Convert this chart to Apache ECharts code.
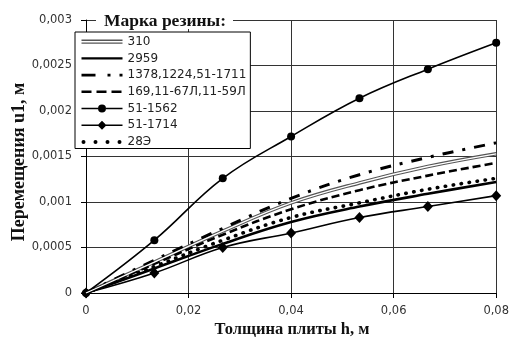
<!DOCTYPE html>
<html>
<head>
<meta charset="utf-8">
<script src="https://cdn.jsdelivr.net/npm/echarts@6/dist/echarts.min.js"></script>
<style>
html,body{margin:0;padding:0;background:#fff;}
#chart{width:512px;height:338px;}
</style>
</head>
<body>
<div id="chart"></div>
<script>
// ---- data ----
const hValues = [0, 0.01333, 0.02667, 0.04, 0.05333, 0.06667, 0.08];
const seriesNames = ['310', '2959', '1378,1224,51-1711', '169,11-67Л,11-59Л', '51-1562', '51-1714', '28Э'];
const u310    = [0, 0.00034, 0.00068, 0.00099, 0.00121, 0.00139, 0.00153];
const u2959   = [0, 0.00027, 0.00054, 0.00078, 0.00095, 0.00109, 0.00122];
const u1378   = [0, 0.00036, 0.00071, 0.00104, 0.00130, 0.00149, 0.00165];
const u169    = [0, 0.00032, 0.00064, 0.00092, 0.00113, 0.00129, 0.00143];
const u511562 = [0, 0.00058, 0.00126, 0.00172, 0.00214, 0.00246, 0.00275];
const u511714 = [0, 0.00022, 0.00050, 0.00066, 0.00083, 0.00095, 0.00107];
const u28E    = [0, 0.00029, 0.00058, 0.00083, 0.00099, 0.00114, 0.00126];
const xTickValues = [0, 0.02, 0.04, 0.06, 0.08];
const xTickLabels = ['0', '0,02', '0,04', '0,06', '0,08'];
const yTickValues = [0, 0.0005, 0.001, 0.0015, 0.002, 0.0025, 0.003];
const yTickLabels = ['0', '0,0005', '0,001', '0,0015', '0,002', '0,0025', '0,003'];
const xTitle = 'Толщина плиты h, м';
const yTitle = 'Перемещения u1, м';
const legendTitle = 'Марка резины:';

function pairs(ys) { return hValues.map((h, i) => [h, ys[i]]); }

const chart = echarts.init(document.getElementById('chart'), null, {renderer: 'canvas'});
const tickFont = 'DejaVu Sans';
const SM = 0.4;

const icons = {
  '310': 'path://M0,0M41,12M0,3.9H41V5.3H0Z M0,6.7H41V8.1H0Z',
  '2959': 'path://M0,0M41,12M0,4.8H41V7.2H0Z',
  '1378,1224,51-1711': 'path://M0,0M41,12M0,4.6H14V7.4H0Z M26,4.6H29V7.4H26Z M38,4.6H41V7.4H38Z',
  '169,11-67Л,11-59Л': 'path://M0,0M41,12M0,4.7H10V7.3H0Z M15,4.7H25V7.3H15Z M30,4.7H40V7.3H30Z',
  '51-1562': 'path://M0,0M41,12M0,5.3H16.5V6.7H0Z M24.5,5.3H41V6.7H24.5Z M16.5,6A4,4 0 1,1 24.5,6A4,4 0 1,1 16.5,6Z',
  '51-1714': 'path://M0,0M41,12M0,5.3H16.5V6.7H0Z M24.5,5.3H41V6.7H24.5Z M20.5,1.5L25,6L20.5,10.5L16,6Z',
  '28Э': 'path://M0,0M41,12M0,6A2,2 0 1,1 4,6A2,2 0 1,1 0,6Z M12,6A2,2 0 1,1 16,6A2,2 0 1,1 12,6Z M24,6A2,2 0 1,1 28,6A2,2 0 1,1 24,6Z M36,6A2,2 0 1,1 40,6A2,2 0 1,1 36,6Z'
};
const iconColors = {'310': '#555'};

const option = {
  animation: false,
  grid: {left: 86, right: 12, top: 20, bottom: 45, containLabel: false},
  xAxis: {
    type: 'value',
    min: xTickValues[0], max: xTickValues[xTickValues.length - 1],
    interval: xTickValues[1] - xTickValues[0],
    axisLine: {show: true, onZero: false, lineStyle: {color: '#000', width: 1}},
    axisTick: {show: true, inside: false, length: 5, lineStyle: {color: '#000'}},
    axisLabel: {
      margin: 12, color: '#333', fontFamily: tickFont, fontSize: 11.5,
      formatter: (v, i) => xTickLabels[i]
    },
    splitLine: {show: true, lineStyle: {color: '#333', width: 1}}
  },
  yAxis: {
    type: 'value',
    min: yTickValues[0], max: yTickValues[yTickValues.length - 1],
    interval: yTickValues[1] - yTickValues[0],
    axisLine: {show: true, lineStyle: {color: '#000', width: 1}},
    axisTick: {show: true, inside: false, length: 5, lineStyle: {color: '#000'}},
    axisLabel: {
      margin: 14, color: '#333', fontFamily: tickFont, fontSize: 11.5,
      formatter: (v, i) => yTickLabels[i]
    },
    splitLine: {show: true, lineStyle: {color: '#333', width: 1}}
  },
  legend: {
    left: 75, top: 32,
    orient: 'vertical',
    selectedMode: false,
    itemWidth: 41, itemHeight: 12, itemGap: 4.7,
    padding: [3.7, 4, 0.6, 6.5],
    backgroundColor: '#fff', borderColor: '#000', borderWidth: 1,
    textStyle: {fontFamily: tickFont, fontSize: 12, color: '#222', lineHeight: 12},
    itemStyle: {borderWidth: 0},
    data: seriesNames.map(n => ({
      name: n, icon: icons[n],
      itemStyle: {color: iconColors[n] || '#000', borderWidth: 0}
    })),
    z: 20
  },
  series: [
    {name: '310', type: 'line', data: pairs(u310), smooth: SM, symbol: 'none',
     lineStyle: {color: '#555', width: 3.6}, color: '#555', z: 3},
    {name: '310 inner', type: 'line', data: pairs(u310), smooth: SM, symbol: 'none',
     lineStyle: {color: '#fff', width: 1.3}, color: '#fff', z: 4, silent: true},
    {name: '2959', type: 'line', data: pairs(u2959), smooth: SM, symbol: 'none',
     lineStyle: {color: '#000', width: 2.6}, color: '#000', z: 3},
    {name: '1378,1224,51-1711', type: 'line', data: pairs(u1378), smooth: SM, symbol: 'none',
     lineStyle: {color: '#000', width: 3, type: [11, 9, 3, 9]}, color: '#000', z: 3},
    {name: '169,11-67Л,11-59Л', type: 'line', data: pairs(u169), smooth: SM, symbol: 'none',
     lineStyle: {color: '#000', width: 2.6, type: [8, 4]}, color: '#000', z: 3},
    {name: '51-1562', type: 'line', data: pairs(u511562), smooth: SM, symbol: 'circle', symbolSize: 8,
     showAllSymbol: true,
     itemStyle: {color: '#000', borderWidth: 0},
     lineStyle: {color: '#000', width: 1.6}, color: '#000', z: 3},
    {name: '51-1714', type: 'line', data: pairs(u511714), smooth: SM, symbol: 'diamond', symbolSize: [10, 11],
     showAllSymbol: true,
     itemStyle: {color: '#000', borderWidth: 0},
     lineStyle: {color: '#000', width: 1.6}, color: '#000', z: 3},
    {name: '28Э', type: 'line', data: pairs(u28E), smooth: SM, symbol: 'none',
     lineStyle: {color: '#000', width: 3.6, type: [0.4, 7.6], cap: 'round'}, color: '#000', z: 3}
  ],
  graphic: [
    {type: 'rect', z: 100, shape: {x: 96, y: 12, width: 137, height: 17}, style: {fill: '#fff'}},
    {type: 'text', z: 101, x: 165, y: 21,
     style: {text: legendTitle, font: 'bold 17.5px "Liberation Serif"', fill: '#111',
             align: 'center', verticalAlign: 'middle', textAlign: 'center', textVerticalAlign: 'middle'}},
    {type: 'text', z: 101, x: 292, y: 330,
     style: {text: xTitle, font: 'bold 16.5px "Liberation Serif"', fill: '#111',
             align: 'center', verticalAlign: 'middle', textAlign: 'center', textVerticalAlign: 'middle'}},
    {type: 'text', z: 101, x: 19, y: 162, rotation: Math.PI / 2,
     style: {text: yTitle, font: 'bold 18px "Liberation Serif"', fill: '#111',
             align: 'center', verticalAlign: 'middle', textAlign: 'center', textVerticalAlign: 'middle'}}
  ]
};
chart.setOption(option);
</script>
</body>
</html>
